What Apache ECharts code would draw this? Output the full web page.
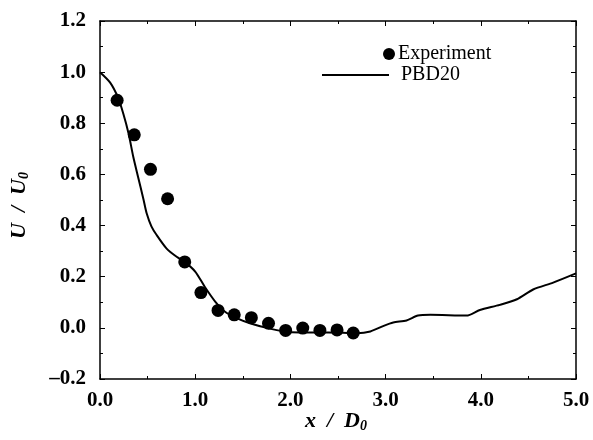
<!DOCTYPE html>
<html>
<head>
<meta charset="utf-8">
<script src="https://cdn.jsdelivr.net/npm/echarts@6/dist/echarts.min.js"></script>
<style>html,body{margin:0;padding:0;background:#fff}#c{width:593px;height:440px}</style>
</head>
<body>
<div id="c"></div>
<script>
var expX = [0.18, 0.36, 0.53, 0.71, 0.89, 1.06, 1.24, 1.41, 1.59, 1.77, 1.95, 2.13, 2.31, 2.49, 2.66];
var expY = [0.89, 0.755, 0.62, 0.505, 0.258, 0.138, 0.068, 0.051, 0.040, 0.018, -0.010, -0.001, -0.010, -0.008, -0.020];
var simX = [0, 0.105, 0.19, 0.245, 0.30, 0.35, 0.40, 0.455, 0.49, 0.54, 0.595, 0.70, 0.805, 0.89, 1.0, 1.10, 1.21, 1.31, 1.435, 1.575, 1.75, 1.93, 2.10, 2.40, 2.70, 2.84, 2.98, 3.08, 3.22, 3.34, 3.47, 3.85, 3.99, 4.20, 4.38, 4.55, 4.76, 5.0];
var simY = [1.0, 0.96, 0.90, 0.837, 0.76, 0.668, 0.59, 0.505, 0.448, 0.397, 0.363, 0.31, 0.278, 0.258, 0.22, 0.161, 0.103, 0.064, 0.038, 0.018, 0.0, -0.014, -0.018, -0.018, -0.021, -0.014, 0.008, 0.021, 0.029, 0.048, 0.051, 0.048, 0.07, 0.09, 0.112, 0.15, 0.177, 0.213];
var xTicks = [0, 1, 2, 3, 4, 5];
var yTicks = [-0.2, 0, 0.2, 0.4, 0.6, 0.8, 1.0, 1.2];

var serif = '"Liberation Serif", "DejaVu Serif", serif';
var expData = expX.map(function (x, i) { return [x, expY[i]]; });
var simData = simX.map(function (x, i) { return [x, simY[i]]; });

function fmt(v) { return v < 0 ? '\u2013' + Math.abs(v).toFixed(1) : v.toFixed(1); }

var axisCommon = {
  axisLine: { show: true, onZero: false, lineStyle: { color: '#000', width: 1.5 } },
  axisTick: { show: true, inside: true, length: 5, lineStyle: { color: '#000', width: 1 } },
  minorTick: { show: true, splitNumber: 2, length: 3, lineStyle: { color: '#000', width: 1 } },
  splitLine: { show: false }
};

function xAxis(pos, labels) {
  return Object.assign({
    type: 'value', position: pos, min: xTicks[0], max: xTicks[xTicks.length - 1], interval: 1,
    axisLabel: { show: labels, formatter: fmt, color: '#000', fontFamily: serif, fontWeight: 'bold', fontSize: 21, margin: 11 }
  }, axisCommon);
}
function yAxis(pos, labels) {
  return Object.assign({
    type: 'value', position: pos, min: yTicks[0], max: yTicks[yTicks.length - 1], interval: 0.2,
    axisLabel: { show: labels, formatter: fmt, color: '#000', fontFamily: serif, fontWeight: 'bold', fontSize: 21, margin: 14 }
  }, axisCommon);
}

var titleRich = {
  a: { fontFamily: serif, fontStyle: 'italic', fontWeight: 'bold', fontSize: 22, fill: '#000' },
  s: { fontFamily: serif, fontStyle: 'italic', fontWeight: 'bold', fontSize: 14, fill: '#000', padding: [11, 0, 0, 0] }
};

var chart = echarts.init(document.getElementById('c'), null, { renderer: 'canvas' });
chart.setOption({
  animation: false,
  backgroundColor: '#fff',
  grid: { left: 100, right: 17, top: 21, bottom: 61 },
  xAxis: [xAxis('bottom', true), xAxis('top', false)],
  yAxis: [yAxis('left', true), yAxis('right', false)],
  legend: [
    { left: 383, top: 44, padding: 0, itemWidth: 12, itemHeight: 12, icon: 'circle', data: ['Experiment'],
      textStyle: { fontFamily: serif, fontSize: 20, color: '#000', padding: [0, 0, 0, -2] } },
    { left: 322, top: 65, padding: 0, itemWidth: 67, itemHeight: 2, icon: 'rect', data: ['PBD20'],
      textStyle: { fontFamily: serif, fontSize: 20, color: '#000', padding: [0, 0, 0, 7] } }
  ],
  graphic: [
    { type: 'text', left: 305, top: 410,
      style: { rich: titleRich, text: '{a|x  /  D}{s|0}' } },
    { type: 'text', left: 8, top: 172, rotation: Math.PI / 2,
      style: { rich: titleRich, text: '{a|U  /  U}{s|0}' } }
  ],
  series: [
    { name: 'PBD20', type: 'line', data: simData, showSymbol: false, symbol: 'none', smooth: 0.25,
      lineStyle: { color: '#000', width: 2 }, itemStyle: { color: '#000' }, z: 2 },
    { name: 'Experiment', type: 'scatter', data: expData, symbol: 'circle', symbolSize: 13,
      itemStyle: { color: '#000', opacity: 1 }, z: 3 }
  ]
});
</script>
</body>
</html>
